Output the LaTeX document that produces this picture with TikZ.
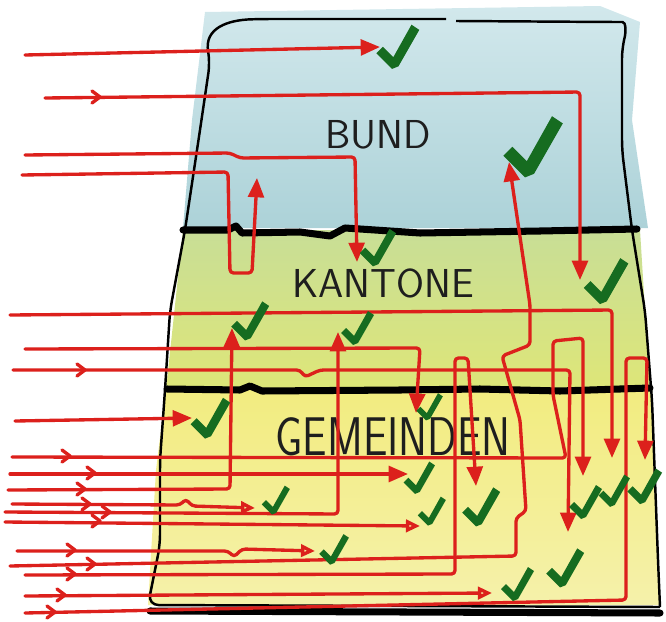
\documentclass[tikz,border=0pt]{standalone}
\usetikzlibrary{arrows.meta}
\definecolor{flowred}{RGB}{220,32,28}
\definecolor{tickgreen}{RGB}{22,108,32}
\definecolor{inkgray}{RGB}{30,30,30}
\definecolor{bundtop}{RGB}{210,232,236}
\definecolor{bundbot}{RGB}{172,210,216}
\definecolor{kantontop}{RGB}{200,222,150}
\definecolor{kantonbot}{RGB}{222,230,120}
\definecolor{gemtop}{RGB}{242,236,128}
\definecolor{gembot}{RGB}{245,241,170}
\tikzset{
  redflow/.style={
    draw=flowred, line width=1.9pt,
    line join=round, line cap=round, rounded corners=2pt,
    -{Triangle[length=11pt,width=9pt]}
  },
  redopen/.style={redflow, -{Triangle[open,length=8pt,width=7pt]}},
  redplain/.style={redflow, -},
  tierline/.style={line width=4pt, draw=black, line cap=round, line join=round},
  outline/.style={line width=1.4pt, draw=black, rounded corners=6pt},
  tierlabel/.style={text=inkgray, inner sep=0pt},
  pics/okmark/.style={code={
    \fill[tickgreen] (0,3) -- (-12,-9) -- (-7,-14) -- (1,-6)
      -- (15,-31) -- (21,-27) -- (5,1) -- cycle;
  }},
  pics/chev/.style={code={
    \draw[redplain, rounded corners=0pt] (-8,-6) -- (0,0) -- (-8,6);
  }}
}

\begin{document}
\begin{tikzpicture}[x=0.02cm, y=-0.02cm]

\useasboundingbox (0,0) rectangle (666,622);

% ═══════════════════════════════════════════════════════════════════
% WASHES  (blue / green / yellow)
% ═══════════════════════════════════════════════════════════════════
\shade[top color=bundtop, bottom color=bundbot]
  (205,12) -- (600,6) -- (640,22) -- (632,120) -- (648,228)
  -- (183,228) -- (192,120) -- cycle;
\shade[top color=kantontop, bottom color=kantonbot]
  (183,230) -- (640,230) -- (650,390) -- (166,390) -- cycle;
\shade[top color=gemtop, bottom color=gembot]
  (166,390) -- (652,390) -- (660,605) -- (148,605) -- (156,470) -- cycle;

% ═══════════════════════════════════════════════════════════════════
% OUTLINE AND TIER DIVIDERS
% ═══════════════════════════════════════════════════════════════════
\draw[outline] (446,19) -- (262,19) .. controls (228,20) and (204,28) .. (210,62)
  -- (200,130) -- (185,230) -- (170,311) -- (165,390) -- (160,460)
  -- (160,545) -- (148,605) -- (660,607);
\draw[outline] (456,21) -- (612,22) .. controls (626,22) and (626,32) .. (622,48)
  -- (622,150) -- (632,230) -- (645,311) -- (652,400) -- (658,560) -- (660,607);

\draw[tierline] (183,230) -- (228,230) -- (236,226) -- (242,233) -- (300,232)
  -- (330,236) -- (345,228) -- (420,233) -- (540,231) -- (637,229);
\draw[tierline] (167,389) -- (240,390) -- (250,386) -- (262,391) -- (400,390)
  -- (480,389) -- (560,391) -- (650,388);
\draw[tierline] (150,611) -- (660,613);

% ═══════════════════════════════════════════════════════════════════
% TIER LABELS
% ═══════════════════════════════════════════════════════════════════
\node[tierlabel, font=\sffamily\fontsize{23}{23}\selectfont] (bund) at (378,135) {BUND};
\node[tierlabel, font=\sffamily\fontsize{23}{23}\selectfont] (kantone) at (383,283) {KANTONE};
\node[tierlabel, font=\sffamily\fontsize{31}{31}\selectfont] (gemeinden) at (393,437)
  {\scalebox{0.8}[1]{GEMEINDEN}};

% ═══════════════════════════════════════════════════════════════════
% RED FLOWS
% ═══════════════════════════════════════════════════════════════════

% into Bund
\draw[redflow] (25,55) -- (380,47);
\draw[redflow] (45,98) -- (580,92) -- (580,280);
\draw[redflow] (25,155) -- (230,153) -- (240,158) -- (355,157) -- (357,262);
\draw[redflow] (22,175) -- (228,172) -- (230,273) -- (252,273) -- (257,178);

% into Kantone
\draw[redflow] (10,315) -- (612,310) -- (612,458);
\draw[redflow] (25,349) -- (420,348) -- (416,413);
\draw[redflow] (13,370) -- (300,370) -- (305,377) -- (320,370) -- (570,370) -- (568,532);

% into Gemeinden
\draw[redflow] (15,421) -- (192,418);
\draw[redflow] (12,457) -- (566,458) -- (553,395) -- (553,341) -- (583,338) -- (583,476);
\draw[redflow] (10,474) -- (408,474);
\draw[redflow] (8,490) -- (230,489) -- (232,328);
\draw[redopen] (12,504) -- (180,505) -- (186,499) -- (192,506) -- (255,508);
\draw[redflow] (5,512) -- (338,514) -- (338,332);
\draw[redopen] (5,522) -- (420,526);
\draw[redopen] (17,551) -- (228,551) -- (234,557) -- (242,549) -- (315,551);
\draw[redflow] (10,566) -- (516,556) -- (516,518) -- (526,511) -- (520,420)
  -- (502,356) -- (530,345) -- (530,305) -- (509,162);
\draw[redflow] (25,575) -- (455,574) -- (455,358) -- (468,358) -- (476,486);
\draw[redopen] (25,596) -- (492,593);
\draw[redflow] (25,613) -- (626,600) -- (626,358) -- (647,358) -- (645,460);

% small chevrons on the incoming lines
\pic at (100,97) {chev};
\pic at (85,370) {chev};
\pic at (70,456) {chev};
\pic at (95,473) {chev};
\pic at (85,489) {chev};
\pic at (90,504) {chev};
\pic at (110,512) {chev};
\pic at (100,521) {chev};
\pic at (75,550) {chev};
\pic at (95,564) {chev};
\pic at (75,574) {chev};
\pic at (65,595) {chev};
\pic at (55,612) {chev};

% ═══════════════════════════════════════════════════════════════════
% CHECK MARKS
% ═══════════════════════════════════════════════════════════════════
\pic[scale=1.3]  at (392,65)  {okmark};
\pic[scale=1.8]  at (525,172) {okmark};
\pic[scale=1.1]  at (373,263) {okmark};
\pic[scale=1.35] at (600,300) {okmark};
\pic[scale=1.15] at (245,337) {okmark};
\pic[scale=1.0]  at (353,342) {okmark};
\pic[scale=1.2]  at (205,435) {okmark};
\pic[scale=0.8]  at (426,418) {okmark};
\pic[scale=0.95] at (415,491) {okmark};
\pic[scale=0.85] at (428,523) {okmark};
\pic[scale=1.15] at (476,523) {okmark};
\pic[scale=0.85] at (272,512) {okmark};
\pic[scale=0.9]  at (330,562) {okmark};
\pic[scale=1.0]  at (581,516) {okmark};
\pic[scale=0.95] at (610,504) {okmark};
\pic[scale=1.05] at (640,501) {okmark};
\pic[scale=1.15] at (560,584) {okmark};
\pic[scale=1.0]  at (513,598) {okmark};

\end{tikzpicture}
\end{document}
